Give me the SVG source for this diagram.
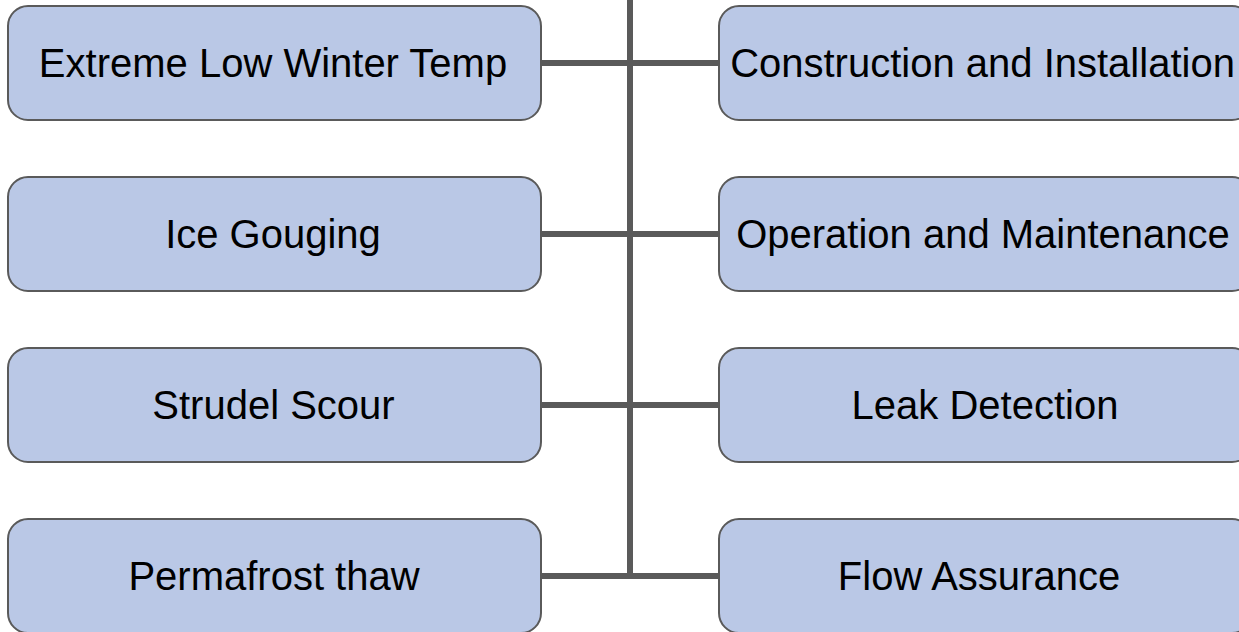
<svg xmlns="http://www.w3.org/2000/svg" width="1239" height="632" viewBox="0 0 1239 632">
<style>
.box{fill:#bac8e6;stroke:#5a5a5a;stroke-width:2}
.lbl{font-family:"Liberation Sans",Arial,sans-serif;font-size:40px;fill:#000;text-anchor:middle}
.con{stroke:#5a5a5a;stroke-width:6;fill:none}
</style>
<rect width="1239" height="632" fill="#fff"/>
<g id="connectors">
<line class="con" x1="630" y1="0" x2="630" y2="579"/>
<line class="con" x1="541" y1="63" x2="719" y2="63"/>
<line class="con" x1="541" y1="234" x2="719" y2="234"/>
<line class="con" x1="541" y1="405" x2="719" y2="405"/>
<line class="con" x1="541" y1="576" x2="719" y2="576"/>
</g>
<g id="n1"><rect class="box" x="8" y="6" width="533" height="114" rx="20"/><text class="lbl" x="273" y="77">Extreme Low Winter Temp</text></g>
<g id="n2"><rect class="box" x="8" y="177" width="533" height="114" rx="20"/><text class="lbl" x="273" y="248">Ice Gouging</text></g>
<g id="n3"><rect class="box" x="8" y="348" width="533" height="114" rx="20"/><text class="lbl" x="273.5" y="419">Strudel Scour</text></g>
<g id="n4"><rect class="box" x="8" y="519" width="533" height="114" rx="20"/><text class="lbl" x="274" y="590">Permafrost thaw</text></g>
<g id="n5"><rect class="box" x="719" y="6" width="533" height="114" rx="20"/><text class="lbl" x="982.5" y="77">Construction and Installation</text></g>
<g id="n6"><rect class="box" x="719" y="177" width="533" height="114" rx="20"/><text class="lbl" x="983" y="248">Operation and Maintenance</text></g>
<g id="n7"><rect class="box" x="719" y="348" width="533" height="114" rx="20"/><text class="lbl" x="985" y="419">Leak Detection</text></g>
<g id="n8"><rect class="box" x="719" y="519" width="533" height="114" rx="20"/><text class="lbl" x="979" y="590">Flow Assurance</text></g>
</svg>
